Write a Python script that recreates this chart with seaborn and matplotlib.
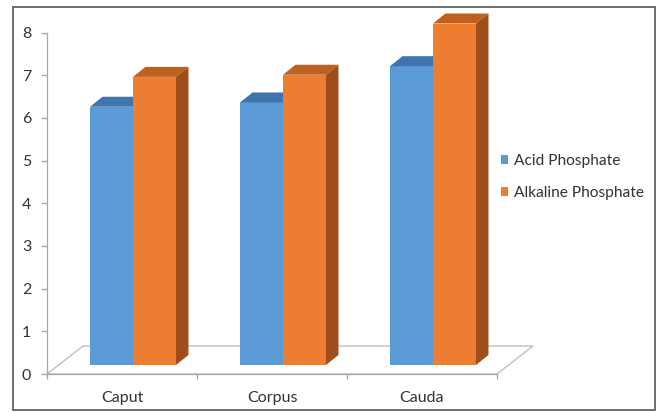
import numpy as np
import pandas as pd
import seaborn as sns
import matplotlib.pyplot as plt
from matplotlib.patches import Polygon, Rectangle

# Enzyme activity by epididymal region
regions = ["Caput", "Corpus", "Cauda"]
series = ["Acid Phosphate", "Alkaline Phosphate"]
acid = [6.05, 6.15, 7.0]
alkaline = [6.75, 6.8, 8.0]
y_ticks = [0, 1, 2, 3, 4, 5, 6, 7, 8]

front_colors = ["#5B9BD5", "#ED7D31"]
top_colors = ["#3F75AC", "#C0601F"]
side_colors = ["#3A6A9A", "#9E4E1B"]
text_color = "#333333"

df = pd.DataFrame({
    "region": regions * 2,
    "enzyme": [series[0]] * len(regions) + [series[1]] * len(regions),
    "value": acid + alkaline,
})

sns.set_theme(style="white")
plt.rcParams["font.family"] = ["Lato", "DejaVu Sans"]

W, H = 663, 412
fig = plt.figure(figsize=(W / 100, H / 100), dpi=100)
fig.patch.set_facecolor("white")

# axes box: front plane of the chart floor
ax_l, ax_r, ax_b, ax_t = 47, 497, 374, 32.5
ax = fig.add_axes([ax_l / W, (H - ax_b) / H, (ax_r - ax_l) / W, (ax_b - ax_t) / H])

sns.barplot(data=df, x="region", y="value", hue="enzyme", order=regions,
            hue_order=series, palette=front_colors, width=0.573, saturation=1,
            errorbar=None, legend=False, ax=ax, linewidth=0, zorder=3)
ax.set_xlim(-0.5, 2.5)
ax.set_ylim(0, 8)

# pixel -> data conversion for the oblique projection
px_x = 3.0 / (ax_r - ax_l)
px_y = 8.0 / (ax_b - ax_t)

# floor parallelogram
fdx, fdy = 36 * px_x, 28 * px_y
floor = Polygon([(-0.5, 0), (2.5, 0), (2.5 + fdx, fdy), (-0.5 + fdx, fdy)],
                closed=True, facecolor="white", edgecolor="#BFBFBF",
                linewidth=1.0, zorder=1, clip_on=False)
ax.add_patch(floor)

# bar placement in depth and bar thickness
ox, oy = 11 * px_x, 9 * px_y
bdx, bdy = 12.5 * px_x, 10 * px_y

bars = [b for b in ax.patches if isinstance(b, Rectangle)]
bars.sort(key=lambda b: b.get_x())
z = 3
for b in bars:
    x0 = b.get_x() + ox
    x1 = x0 + b.get_width()
    h = b.get_height()
    y0 = oy
    y1 = h + oy
    k = 0 if b.get_facecolor()[2] > 0.6 else 1
    b.set_bounds(x0, y0, b.get_width(), h)
    b.set_zorder(z)
    b.set_clip_on(False)
    top = Polygon([(x0, y1), (x1, y1), (x1 + bdx, y1 + bdy), (x0 + bdx, y1 + bdy)],
                  closed=True, facecolor=top_colors[k], edgecolor="none",
                  zorder=z, clip_on=False)
    side = Polygon([(x1, y0), (x1 + bdx, y0 + bdy), (x1 + bdx, y1 + bdy), (x1, y1)],
                   closed=True, facecolor=side_colors[k], edgecolor="none",
                   zorder=z, clip_on=False)
    ax.add_patch(top)
    ax.add_patch(side)
    z += 1

# axes styling
for s in ["top", "right"]:
    ax.spines[s].set_visible(False)
for s in ["left", "bottom"]:
    ax.spines[s].set_color("#A6A6A6")
    ax.spines[s].set_linewidth(0.9)
    ax.spines[s].set_zorder(2)

ax.set_yticks(y_ticks)
ax.set_yticklabels([str(t) for t in y_ticks])
ax.tick_params(axis="y", direction="out", length=4.3, width=0.9, color="#A6A6A6",
               pad=7, labelsize=11.5, labelcolor=text_color, left=True)
ax.set_xticks(range(len(regions)))
ax.set_xticklabels(regions)
ax.tick_params(axis="x", which="major", length=0, pad=12, labelsize=11.5,
               labelcolor=text_color)
ax.set_xticks([-0.5, 0.5, 1.5, 2.5], minor=True)
ax.tick_params(axis="x", which="minor", direction="out", length=3.5, width=0.9,
               color="#A6A6A6", bottom=True)
ax.set_xlabel("")
ax.set_ylabel("")
ax.set_facecolor("none")

# legend
handles = [Rectangle((0, 0), 1, 1, facecolor=c, edgecolor="none") for c in front_colors]
fig.legend(handles, series, loc="center left",
           bbox_to_anchor=(501 / W, 1 - 177 / H), frameon=False, borderpad=0,
           borderaxespad=0, fontsize=11.2, handlelength=0.45, handleheight=0.45,
           handletextpad=0.4, labelspacing=1.15, labelcolor=text_color)

# outer frame
frame = Rectangle((13 / W, 1 - 410 / H), (655 - 13) / W, (410 - 7) / H,
                  transform=fig.transFigure, facecolor="none",
                  edgecolor="#6E6E6E", linewidth=1.4, zorder=10)
fig.patches.append(frame)

fig.savefig("out.png", dpi=100)
